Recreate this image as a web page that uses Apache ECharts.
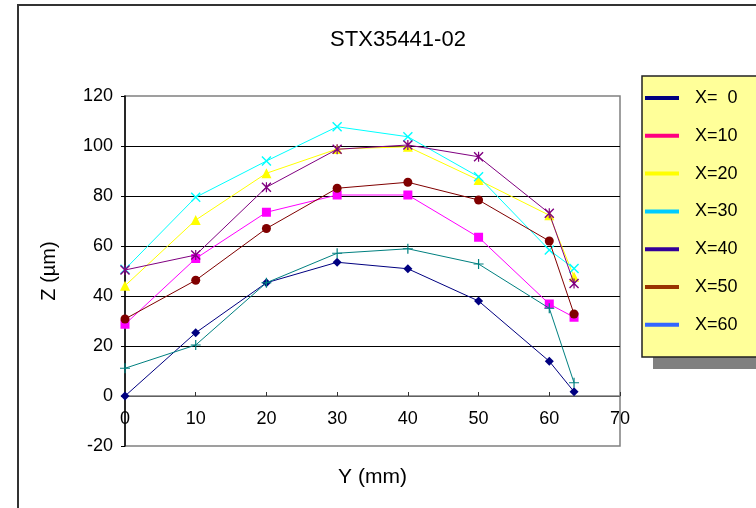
<!DOCTYPE html>
<html>
<head>
<meta charset="utf-8">
<script src="https://cdn.jsdelivr.net/npm/echarts@6/dist/echarts.min.js"></script>
<style>html,body{margin:0;padding:0;background:#fff}#c{width:756px;height:508px}</style>
</head>
<body>
<div id="c"></div>
<script>
const yPositions = [0, 10, 20, 30, 40, 50, 60, 63.5];
const seriesNames = ['X=  0', 'X=10', 'X=20', 'X=30', 'X=40', 'X=50', 'X=60'];
const zX0  = [0, 25.3, 45.3, 53.5, 50.9, 38, 13.9, 1.7];
const zX10 = [28.7, 55, 73.5, 80.4, 80.4, 63.5, 36.8, 31.5];
const zX20 = [44.1, 70.4, 89.1, 98.8, 99.7, 86.4, 72.3, 47.7];
const zX30 = [50.7, 79.5, 94, 107.7, 103.7, 87.7, 58.4, 51];
const zX40 = [50.4, 56.4, 83.5, 98.7, 100.4, 95.7, 73.1, 45];
const zX50 = [30.8, 46.3, 67, 83.1, 85.5, 78.4, 62, 32.8];
const zX60 = [11.1, 20.4, 45.3, 57.1, 58.9, 52.8, 35.1, 5.3];
const xTicks = [0, 10, 20, 30, 40, 50, 60, 70];
const yTicks = [-20, 0, 20, 40, 60, 80, 100, 120];

const allValues = [zX0, zX10, zX20, zX30, zX40, zX50, zX60];
const lineColors = ['#000080', '#ff00ff', '#ffff00', '#00ffff', '#800080', '#800000', '#008080'];
const legendColors = ['#000080', '#ff0080', '#ffff00', '#00ccff', '#330099', '#993300', '#3366ff'];

const X_PATH = 'path://M0,1L1,0L5,4L9,0L10,1L6,5L10,9L9,10L5,6L1,10L0,9L4,5Z';
const STAR_PATH = 'path://M0,1L1,0L5,4L9,0L10,1L6,5L10,9L9,10L5,6L1,10L0,9L4,5Z M4.4,0L5.6,0L5.6,10L4.4,10Z';
const PLUS_PATH = 'path://M4.4,0L5.6,0L5.6,4.4L10,4.4L10,5.6L5.6,5.6L5.6,10L4.4,10L4.4,5.6L0,5.6L0,4.4L4.4,4.4Z';
const symbols = ['diamond', 'rect', 'triangle', X_PATH, STAR_PATH, 'circle', PLUS_PATH];
const symbolSizes = [9, 9, 10, 10, 10, 9, 10];

const FONT = "'Liberation Sans', Arial, sans-serif";

const chart = echarts.init(document.getElementById('c'), null, {renderer: 'canvas'});

const series = allValues.map((vals, i) => ({
  name: seriesNames[i],
  type: 'line',
  data: yPositions.map((y, k) => [y, vals[k]]),
  symbol: symbols[i],
  symbolSize: symbolSizes[i],
  showAllSymbol: true,
  lineStyle: {color: lineColors[i], width: 1},
  itemStyle: {color: lineColors[i], borderWidth: 0},
  emphasis: {disabled: true},
  animation: false,
  z: 3 + i
}));

chart.setOption({
  animation: false,
  backgroundColor: '#ffffff',
  title: {
    text: 'STX35441-02',
    left: 393,
    textAlign: 'center',
    top: 24,
    textStyle: {fontFamily: FONT, fontSize: 22, fontWeight: 'normal', color: '#000'}
  },
  graphic: [
    {type: 'rect', z: 0, shape: {x: 18, y: 5, width: 800, height: 600}, style: {fill: 'none', stroke: '#333', lineWidth: 2}},
    {type: 'rect', z: 0, shape: {x: 653, y: 86, width: 120, height: 283}, style: {fill: '#808080'}},
    {type: 'rect', z: 0, shape: {x: 642, y: 76, width: 130, height: 281}, style: {fill: '#ffff99', stroke: '#222', lineWidth: 1.5}}
  ],
  legend: {
    orient: 'vertical',
    left: 645,
    top: 89,
    padding: 0,
    z: 10,
    itemWidth: 34,
    itemHeight: 4,
    itemGap: 19.8,
    icon: 'rect',
    selectedMode: false,
    textStyle: {fontFamily: FONT, fontSize: 18, color: '#000', padding: [0, 0, 0, 11]},
    data: seriesNames.map((n, i) => ({name: n, icon: 'rect', itemStyle: {color: legendColors[i], borderWidth: 0}}))
  },
  grid: {
    left: 125, top: 96, right: 136, bottom: 62,
    outerBoundsMode: 'none',
    containLabel: false,
    show: true, borderColor: '#808080', borderWidth: 1.5, backgroundColor: 'transparent'
  },
  xAxis: {
    type: 'value',
    min: xTicks[0], max: xTicks[xTicks.length - 1], interval: 10,
    offset: -50,
    name: 'Y (mm)', nameLocation: 'middle', nameGap: 71,
    nameTextStyle: {fontFamily: FONT, fontSize: 21, color: '#000'},
    axisLine: {onZero: false, lineStyle: {color: '#808080', width: 1.5}},
    axisTick: {inside: true, length: 4, lineStyle: {color: '#333'}},
    axisLabel: {fontFamily: FONT, fontSize: 18, color: '#000', margin: 14},
    splitLine: {show: false}
  },
  yAxis: {
    type: 'value',
    min: yTicks[0], max: yTicks[yTicks.length - 1], interval: 20,
    name: 'Z (µm)', nameLocation: 'middle', nameGap: 66,
    nameTextStyle: {fontFamily: FONT, fontSize: 20, color: '#000'},
    axisLine: {show: true, lineStyle: {color: '#000', width: 1.5}},
    axisTick: {show: true, length: 4, lineStyle: {color: '#000'}},
    axisLabel: {fontFamily: FONT, fontSize: 18, color: '#000', margin: 12},
    splitLine: {show: true, showMinLine: false, showMaxLine: false, lineStyle: {color: '#000', width: 1}}
  },
  series: series
});
</script>
</body>
</html>
